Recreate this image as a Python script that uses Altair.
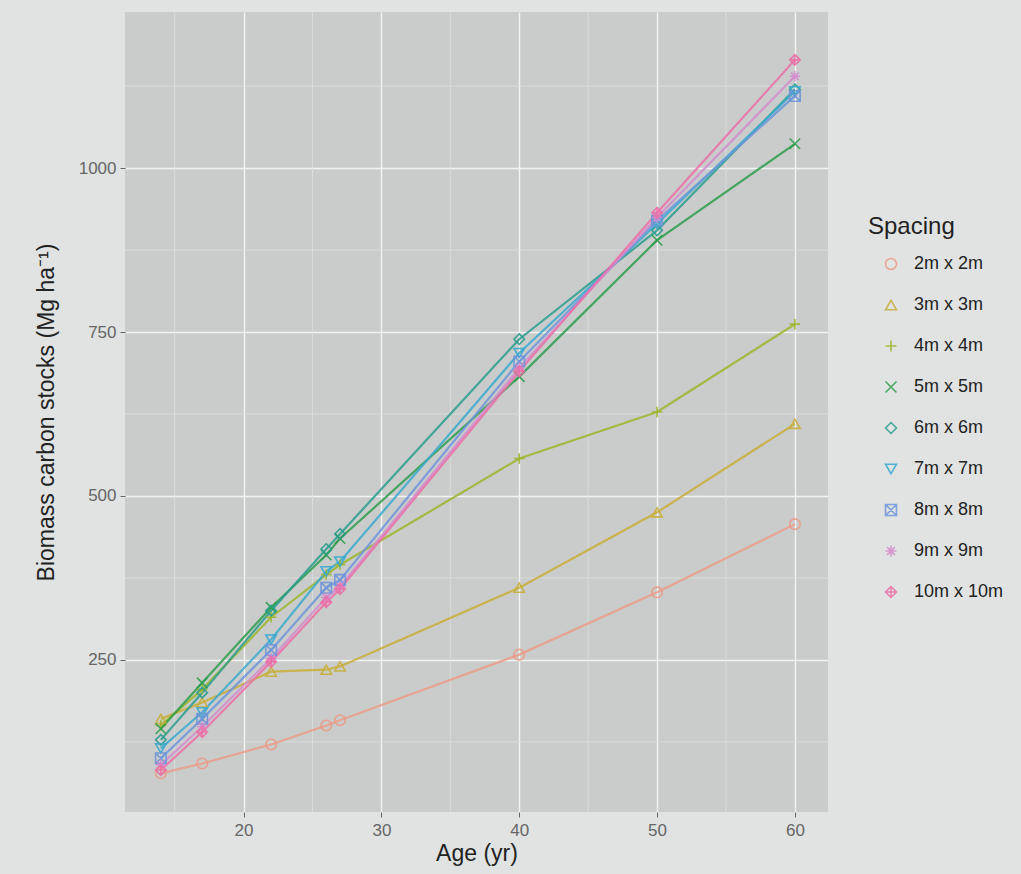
import altair as alt
import pandas as pd

ages = [14, 17, 22, 26, 27, 40, 50, 60]
spacings = ["2m x 2m", "3m x 3m", "4m x 4m", "5m x 5m", "6m x 6m",
            "7m x 7m", "8m x 8m", "9m x 9m", "10m x 10m"]
s2 = [77, 92, 121, 150, 158, 258, 353, 457]
s3 = [160, 185, 232, 235, 240, 360, 475, 610]
s4 = [150, 205, 315, 380, 395, 557, 628, 762]
s5 = [145, 215, 330, 410, 435, 682, 890, 1037]
s6 = [128, 200, 325, 419, 442, 739, 905, 1120]
s7 = [115, 170, 281, 385, 400, 718, 915, 1117]
s8 = [100, 160, 265, 360, 372, 705, 920, 1110]
s9 = [90, 148, 252, 345, 362, 695, 925, 1140]
s10 = [82, 140, 247, 338, 358, 690, 932, 1165]
series = [s2, s3, s4, s5, s6, s7, s8, s9, s10]

colors = ["#EC9C88", "#C9AE3A", "#9DB52C", "#2E9E4E", "#2A9E8E",
          "#3AA9CF", "#6E95DA", "#D48CCF", "#EC6FA7"]
shapes = [
    "circle",
    "triangle-up",
    "M-1,0L1,0M0,-1L0,1",
    "M-1,-1L1,1M-1,1L1,-1",
    "diamond",
    "triangle-down",
    "M-1,-1H1V1H-1Z M-1,-1L1,1M-1,1L1,-1",
    "M-1,0L1,0M0,-1L0,1M-0.7,-0.7L0.7,0.7M-0.7,0.7L0.7,-0.7",
    "M0,-1L1,0L0,1L-1,0Z M-1,0L1,0M0,-1L0,1",
]

rows = []
for name, vals in zip(spacings, series):
    for a, v in zip(ages, vals):
        rows.append({"Age": a, "Carbon": v, "Spacing": name})
df = pd.DataFrame(rows)

xs = alt.Scale(domain=[11.4, 62.4], nice=False, zero=False)
ys = alt.Scale(domain=[18, 1238], nice=False, zero=False)
xaxis = alt.Axis(values=[20, 30, 40, 50, 60], title="Age (yr)", format="d")
yaxis = alt.Axis(values=[250, 500, 750, 1000], format="d",
                 title="Biomass carbon stocks (Mg ha⁻¹)")

x = alt.X("Age:Q", scale=xs, axis=xaxis)
y = alt.Y("Carbon:Q", scale=ys, axis=yaxis)
leg = alt.Legend(title="Spacing", orient="none", legendX=743, legendY=203,
                 symbolOffset=14)
color = alt.Color("Spacing:N", sort=spacings,
                  scale=alt.Scale(domain=spacings, range=colors), legend=leg)
shape = alt.Shape("Spacing:N", sort=spacings,
                  scale=alt.Scale(domain=spacings, range=shapes), legend=leg)

minor_x = pd.DataFrame({"v": [15, 25, 35, 45, 55]})
minor_y = pd.DataFrame({"v": [125, 375, 625, 875, 1125]})

gx = alt.Chart(minor_x).mark_rule(color="#dcdfde", strokeWidth=0.8).encode(
    x=alt.X("v:Q", scale=xs, axis=xaxis))
gy = alt.Chart(minor_y).mark_rule(color="#dcdfde", strokeWidth=0.8).encode(
    y=alt.Y("v:Q", scale=ys, axis=yaxis))

lines = alt.Chart(df).mark_line(strokeWidth=2.2, opacity=0.85).encode(
    x=x, y=y, color=color, detail="Spacing:N")
points = alt.Chart(df).mark_point(filled=False, size=110, strokeWidth=1.6, opacity=0.9).encode(
    x=x, y=y, color=color, shape=shape)

chart = alt.layer(gx, gy, lines, points).properties(
    width=703, height=800,
    background="#e0e3e2",
    padding={"left": 125, "top": 12, "right": 193, "bottom": 62},
    autosize=alt.AutoSizeParams(type="none"),
).configure_view(
    fill="#c9ccca", stroke=None
).configure_axis(
    grid=True, gridColor="#f2f3f3", gridWidth=1.4,
    domain=False, tickColor="#666", tickSize=5,
    labelColor="#666", labelFontSize=17, labelFont="Liberation Sans",
    titleColor="#222", titleFontSize=23, titleFont="Liberation Sans",
    titleFontWeight="normal",
).configure_axisX(
    labelPadding=5, titlePadding=4
).configure_axisY(
    labelPadding=4, titlePadding=20
).configure_legend(
    titleFontSize=24, titleFont="Liberation Sans", titleFontWeight="normal",
    titleColor="#222", labelFontSize=18, labelFont="Liberation Sans",
    labelColor="#222", rowPadding=23, symbolSize=120, symbolStrokeWidth=1.6,
    padding=0, titlePadding=16, labelOffset=14,
)

chart.save("out.html", embed_options={"renderer": "svg", "actions": False})
